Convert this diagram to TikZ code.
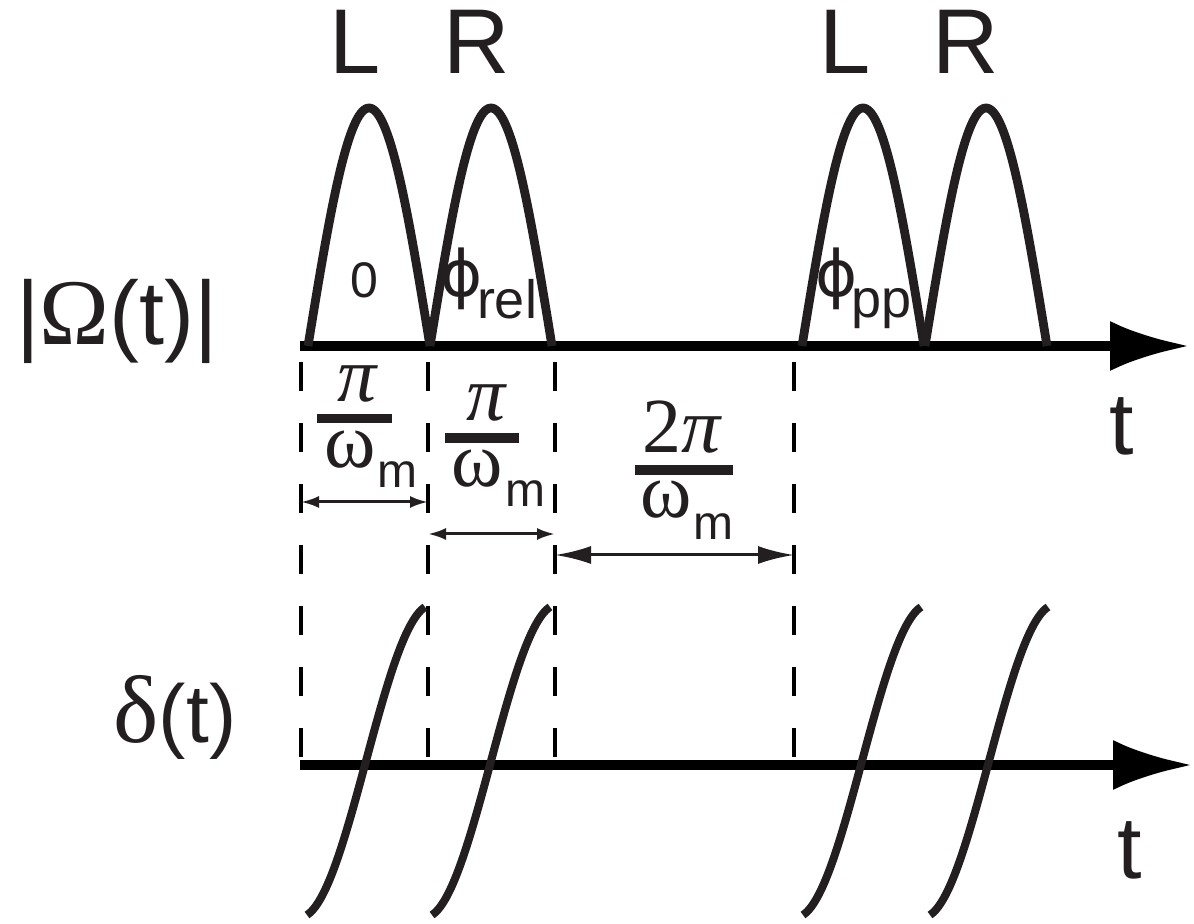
\documentclass[tikz,border=0pt]{standalone}
\usepackage{fontspec}
\setmainfont{Liberation Sans}
\newfontfamily\seriffont{Liberation Serif}
\newfontfamily\phifont{DejaVu Sans}
\usetikzlibrary{arrows.meta}
\definecolor{ink}{RGB}{35,31,32}
\begin{document}
\begin{tikzpicture}[x=0.5pt,y=-0.5pt,
  pulse/.style={line width=4.4pt, draw=ink, line join=round},
  sweep/.style={line width=4pt, draw=ink},
  axis/.style={line width=5pt, draw=black, -{Latex[length=40pt,width=25pt]}},
  guide/.style={line width=2pt, draw=black, dash pattern=on 14.5pt off 16pt},
  dim/.style={line width=1.5pt, draw=ink, {Latex[length=9pt,width=6pt]}-{Latex[length=9pt,width=6pt]}},
  bigdim/.style={line width=1.5pt, draw=ink, {Latex[length=18pt,width=9pt]}-{Latex[length=18pt,width=9pt]}},
  lab/.style={inner sep=0pt, outer sep=0pt, anchor=base, text=ink},
  big/.style={lab, font=\fontsize{46pt}{50pt}\selectfont},
  small/.style={lab, font=\fontsize{25pt}{28pt}\selectfont},
  subs/.style={lab, anchor=base west, font=\fontsize{27pt}{30pt}\selectfont},
  phis/.style={lab, font=\phifont\fontsize{32pt}{36pt}\selectfont},
  greek/.style={lab, text depth=0pt, font=\seriffont\fontsize{39pt}{42pt}\selectfont},
  msub/.style={lab, anchor=base west, font=\fontsize{24pt}{26pt}\selectfont},
  tlab/.style={lab, font=\fontsize{44pt}{48pt}\selectfont},
  bar/.style={fill=ink}
]
\useasboundingbox (0,0) rectangle (1194,924);

% axes
\coordinate (a1s) at (300,346);
\coordinate (a1e) at (1190,346);
\coordinate (a2s) at (300,765);
\coordinate (a2e) at (1193,765);
\draw[axis] (a1s) -- (a1e);
\draw[axis] (a2s) -- (a2e);

% dashed guides
\foreach \n/\gx in {1/301,2/428,3/555,4/794}{
  \coordinate (g\n t) at (\gx,362);
  \coordinate (g\n b) at (\gx,758);
  \draw[guide] (g\n t) -- (g\n b);
}

% pulses
\foreach \px in {308,430,802,925}{
  \draw[pulse] plot[domain=0:180, samples=70, variable=\u] ({\px+0.6778*\u}, {346-238*sin(\u)});
}

% detuning sweeps
\foreach \cx in {366,491,862,989}{
  \draw[sweep] plot[domain=-80:80, samples=60, variable=\u] ({\cx+0.7375*\u}, {761-154*sin(\u)/sin(80)});
}

% labels L R
\node[big] (L1) at (355,74) {L};
\node[big] (R1) at (477,74) {R};
\node[big] (L2) at (845,74) {L};
\node[big] (R2) at (966,74) {R};

% phases
\node[small] (zero) at (364,298) {0};
\node[phis] (phi1) at (462,297) {ϕ};
\node[subs] (rel) at (477,319) {rel};
\node[phis] (phi2) at (837,297) {ϕ};
\node[subs] (pp) at (851,318) {pp};

% axis labels
\node[tlab] (t1) at (1122,455) {t};
\node[tlab] (t2) at (1130,878) {t};
\node[lab, font=\fontsize{45pt}{50pt}\selectfont] (Om) at (117,345) {|{\seriffont\fontsize{47pt}{50pt}\selectfont Ω}(t)|};
\node[lab, font=\fontsize{41pt}{46pt}\selectfont] (del) at (175,742) {{\seriffont\fontsize{48pt}{52pt}\selectfont δ}(t)};

% fractions
\node[greek] (pi1) at (357,402) {\itshape π};
\fill[bar] (317,414) rectangle (392,423);
\node[greek] (w1) at (350,468) {ω};
\node[msub] (m1) at (377,488) {m};

\node[greek] (pi2) at (486,421) {\itshape π};
\fill[bar] (445,433) rectangle (519,443);
\node[greek] (w2) at (477,487) {ω};
\node[msub] (m2) at (505,507) {m};

\node[greek] (pi3) at (682,453) {2{\itshape π}};
\fill[bar] (635,465) rectangle (733,475);
\node[greek] (w3) at (666,518) {ω};
\node[msub] (m3) at (693,540) {m};

% dimension arrows
\coordinate (d1l) at (301,502);
\coordinate (d1r) at (428,502);
\coordinate (d2l) at (428,534);
\coordinate (d2r) at (555,534);
\coordinate (d3l) at (555,555);
\coordinate (d3r) at (794,555);
\draw[dim] (d1l) -- (d1r);
\draw[dim] (d2l) -- (d2r);
\draw[bigdim] (d3l) -- (d3r);
\end{tikzpicture}
\end{document}
